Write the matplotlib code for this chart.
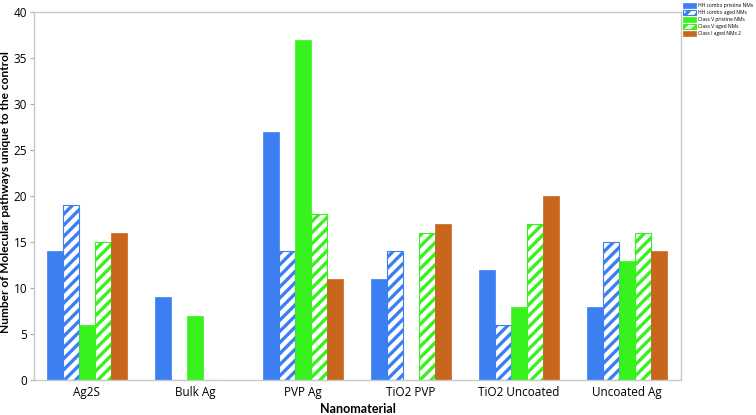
import matplotlib
matplotlib.use("Agg")
import matplotlib.pyplot as plt
import numpy as np

categories = ["Ag2S", "Bulk Ag", "PVP Ag", "TiO2 PVP", "TiO2 Uncoated", "Uncoated Ag"]
series_names = ["HH combo pristine NMs", "HH combo aged NMs", "Class V pristine NMs",
                "Class V aged NMs", "Class I aged NMs 2"]
hh_pristine = [14, 9, 27, 11, 12, 8]
hh_aged = [19, 0, 14, 14, 6, 15]
v_pristine = [6, 7, 37, 0, 8, 13]
v_aged = [15, 0, 18, 16, 17, 16]
i_aged = [16, 0, 11, 17, 20, 14]
yticks = [0, 5, 10, 15, 20, 25, 30, 35, 40]

plt.rcParams['font.family'] = ['Open Sans', 'DejaVu Sans']
plt.rcParams['hatch.linewidth'] = 2.4

fig = plt.figure(figsize=(7.56, 4.15), dpi=100)
ax = fig.add_axes([0.045, 0.084, 0.856, 0.887])

blue = "#3b7ff0"
green = "#38f21e"
orange = "#c8661e"
styles = [
    dict(color=blue, hatch=None),
    dict(color=blue, hatch="///"),
    dict(color=green, hatch=None),
    dict(color=green, hatch="///"),
    dict(color=orange, hatch=None),
]
data = [hh_pristine, hh_aged, v_pristine, v_aged, i_aged]
x = np.arange(len(categories))
w = 0.148
for i, (vals, st, name) in enumerate(zip(data, styles, series_names)):
    pos = x + (i - 2) * w
    if st["hatch"]:
        ax.bar(pos, vals, w, facecolor="white", edgecolor=st["color"], hatch=st["hatch"],
               linewidth=0.8, label=name)
    else:
        ax.bar(pos, vals, w, facecolor=st["color"], edgecolor=st["color"], linewidth=0.5,
               label=name)

ax.set_xlim(-0.49, 5.5)
ax.set_ylim(0, 40)
ax.set_yticks(yticks)
ax.set_xticks(x)
ax.set_xticklabels(categories, fontsize=8.5)
ax.tick_params(axis='y', labelsize=8.5, length=3, color="#aaaaaa", pad=2)
ax.tick_params(axis='x', length=0, pad=4)
for s in ax.spines.values():
    s.set_color("#c8c8c8")
    s.set_linewidth(1)
ax.set_ylabel("Number of Molecular pathways unique to the control", fontsize=8.6,
              fontweight="bold", family=["Lato", "DejaVu Sans"])
ax.yaxis.set_label_coords(-0.0355, 0.51)
ax.set_xlabel("Nanomaterial", fontsize=9, fontweight="bold", family=["Lato", "DejaVu Sans"],
              labelpad=3)

leg = fig.legend(loc="upper left", bbox_to_anchor=(0.902, 0.995), fontsize=3.6,
                 frameon=False, handlelength=2.6, handleheight=1.2, labelspacing=0.35,
                 handletextpad=0.5, borderaxespad=0, borderpad=0.2)

fig.savefig("out.png", dpi=100)
